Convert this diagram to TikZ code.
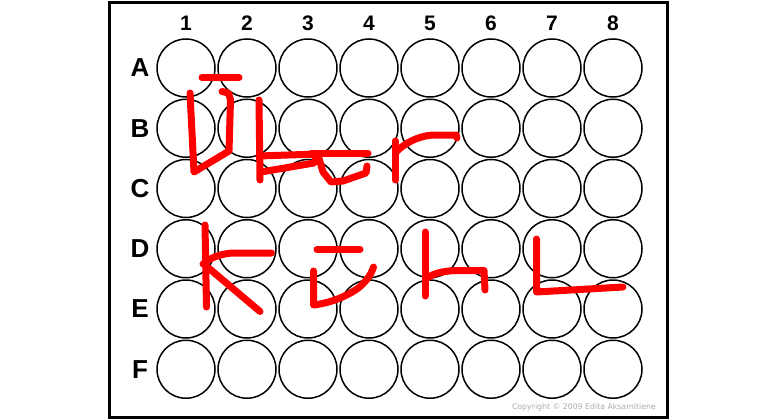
\documentclass[tikz,border=0pt]{standalone}
\usepackage{fontspec}
\setmainfont{Liberation Sans}
\newfontfamily\cpfont{DejaVu Sans}
\begin{document}
\begin{tikzpicture}[x=1pt,y=-1pt,
  well/.style={circle,draw=black,line width=1.5pt,minimum size=58pt,inner sep=0pt},
  collabel/.style={font=\bfseries\fontsize{21}{21}\selectfont},
  rowlabel/.style={font=\bfseries\fontsize{26}{26}\selectfont},
  ink/.style={draw=red,line width=7pt,line cap=round,line join=round}]
\useasboundingbox (0,0) rectangle (780,420);
\fill[white] (0,0) rectangle (780,420);
\draw[line width=2.5pt] (109.5,2.5) rectangle (667.5,417.5);
\foreach \c in {1,...,8} {
  \node[collabel] (col\c) at ({186+61*(\c-1)},23) {\c};
}
\foreach \r [count=\i] in {A,B,C,D,E,F} {
  \node[rowlabel] (row\r) at (140,{68+60.25*(\i-1)}) {\r};
  \foreach \c in {1,...,8} {
    \node[well] (well-\r\c) at ({186+61*(\c-1)},{68+60.25*(\i-1)}) {};
  }
}
\node[font=\cpfont\fontsize{7.8}{7.8}\selectfont,text=black!33,anchor=east,inner sep=0pt] (copy) at (656,407) {Copyright © 2009 Edita Aksamitiene};
% "Uber"
\draw[ink] (202,77.5) -- (239,77.5);
\draw[ink] (190,93) -- (194,172) -- (229,151) -- (230.5,100) -- (228.5,93) -- (222,91.5);
\draw[ink] (259,100) -- (260,180);
\draw[ink] (259,156) -- (318,154) -- (314,163) -- (261,172);
\draw[ink] (311,153) -- (368,153);
\draw[ink] (318,155) -- (323,172) -- (331,182) -- (343,181) -- (366,173) -- (367,166);
\draw[ink] (395,141) -- (395,180);
\draw[ink] (396,152) .. controls (405,143) and (418,136) .. (433,135) -- (456,135) -- (457,138);
% "kill"
\draw[ink] (205,225) -- (206.5,307);
\draw[ink] (271.5,253) -- (232,253) .. controls (220,254) and (210,258) .. (203,264);
\draw[ink] (205,265) -- (260,311.5);
\draw[ink] (317,249.5) -- (360,249.5);
\draw[ink] (313.5,271) -- (313.5,305) .. controls (330,303) and (345,297) .. (357,289) .. controls (366,282) and (371,275) .. (373.5,267);
\draw[ink] (425,232) -- (425,296);
\draw[ink] (426,279) .. controls (432,274) and (440,271.5) .. (455,270.5) -- (484,270.5) -- (485,290);
\draw[ink] (536.5,239) -- (536.5,292) -- (623,287);
\end{tikzpicture}
\end{document}
